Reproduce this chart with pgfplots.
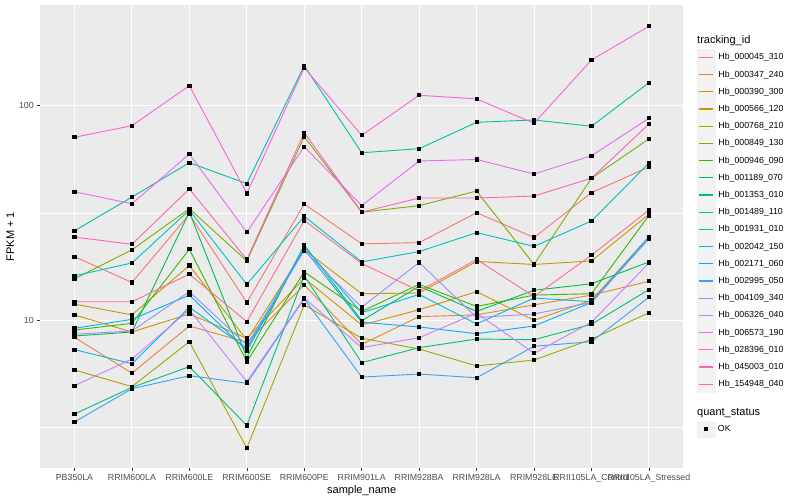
\documentclass[border=0pt]{standalone}
\usepackage{fontspec}
\setmainfont{Liberation Sans}
\usepackage{pgfplots}
\usepackage{pgfplotstable}
\pgfplotsset{compat=1.18}
\definecolor{c1}{HTML}{F8766D}
\definecolor{c2}{HTML}{EA8331}
\definecolor{c3}{HTML}{D89000}
\definecolor{c4}{HTML}{C09B00}
\definecolor{c5}{HTML}{A3A500}
\definecolor{c6}{HTML}{7CAE00}
\definecolor{c7}{HTML}{39B600}
\definecolor{c8}{HTML}{00BB4E}
\definecolor{c9}{HTML}{00BF7D}
\definecolor{c10}{HTML}{00C1A3}
\definecolor{c11}{HTML}{00BFC4}
\definecolor{c12}{HTML}{00BAE0}
\definecolor{c13}{HTML}{00B0F6}
\definecolor{c14}{HTML}{35A2FF}
\definecolor{c15}{HTML}{9590FF}
\definecolor{c16}{HTML}{C77CFF}
\definecolor{c17}{HTML}{E76BF3}
\definecolor{c18}{HTML}{FA62DB}
\definecolor{c19}{HTML}{FF62BC}
\definecolor{c20}{HTML}{FF6C90}
\definecolor{panelbg}{HTML}{EBEBEB}
\definecolor{keybg}{HTML}{F2F2F2}
\definecolor{ticklab}{HTML}{4D4D4D}
\definecolor{tickcol}{HTML}{333333}

\pgfplotstableread{
x s1 s2 s3 s4 s5 s6 s7 s8 s9 s10 s11 s12 s13 s14 s15 s16 s17 s18 s19 s20
0 19.8 8.33 10.6 11.9 5.87 15.6 9.01 8.45 3.66 26.1 16.1 7.30 9.18 3.36 8.61 4.96 39.7 71.2 24.4 12.2
1 15.0 5.67 8.82 10.6 4.91 21.3 9.68 8.82 4.87 37.5 18.5 6.28 10.1 4.80 8.92 6.60 34.9 80.6 22.6 12.2
2 31.2 9.41 10.7 18.0 7.95 33.1 21.4 31.9 6.08 54.2 32.6 11.5 13.1 5.52 13.6 11.2 59.5 123.8 40.9 16.4
3 12.1 7.90 8.25 8.09 2.54 18.9 6.42 6.70 3.24 43.3 14.7 7.41 7.22 5.09 7.67 5.18 25.7 39.0 19.2 9.85
4 34.8 14.6 15.7 21.3 11.8 71.6 16.8 22.4 16.1 153.4 30.5 22.0 21.5 12.6 21.1 12.7 64.4 150.1 74.8 29.2
5 22.7 7.73 9.51 13.3 8.25 31.9 11.0 9.96 6.35 60.3 18.7 10.85 9.79 5.44 11.5 7.46 34.2 72.7 31.9 18.4
6 23.0 10.4 11.2 13.4 7.35 34.2 14.7 14.4 7.46 63.0 20.9 13.2 9.31 5.62 18.6 8.30 55.2 111.7 37.1 13.7
7 31.7 10.6 13.6 18.8 6.13 40.0 11.6 11.0 8.18 83.6 25.6 9.61 8.66 5.40 10.3 10.8 56.1 107.4 37.1 19.2
8 24.3 11.8 10.0 18.2 6.53 18.2 13.1 13.8 8.12 85.7 22.1 12.7 9.41 7.57 10.7 7.02 48.0 82.7 37.9 12.9
9 39.3 13.1 12.4 18.9 8.16 45.9 13.3 14.8 9.58 80.1 29.0 12.2 12.1 7.95 12.1 9.79 58.4 163.1 45.9 20.1
10 51.8 15.2 24.5 31.2 10.85 69.9 30.8 18.7 13.9 127.8 54.0 24.5 24.0 12.8 24.0 18.5 87.3 234.1 82.1 32.6
}\data

\begin{document}
\begin{tikzpicture}
\useasboundingbox (-40pt,-31.7pt) rectangle (760pt,468.3pt);
\begin{axis}[
  scale only axis, width=643.4pt, height=463.3pt,
  at={(0pt,0pt)}, anchor=south west,
  clip mode=individual,
  xmin=-0.6, xmax=10.6,
  ymode=log, ymin=2.045, ymax=294.1,
  axis background/.style={fill=panelbg},
  axis line style={draw=none},
  xtick={0,...,10},
  xticklabels={PB350LA,RRIM600LA,RRIM600LE,RRIM600SE,RRIM600PE,RRIM901LA,RRIM928BA,RRIM928LA,RRIM928LE,RRII105LA\_Control,RRII105LA\_Stressed},
  ytick={10,100}, yticklabels={10,100},
  minor ytick={3.1623,31.623},
  xmajorgrids, ymajorgrids, yminorgrids,
  major grid style={white, line width=1.07pt},
  minor grid style={white, line width=0.53pt},
  tick align=outside, tick pos=left,
  major tick length=2.75pt, minor tick length=0pt,
  tick style={tickcol, line width=0.53pt},
  ticklabel style={font=\fontsize{8.8}{10}\selectfont, text=ticklab},
  /pgf/number format/assume math mode=true,
  xlabel={sample\_name}, ylabel={FPKM + 1},
  label style={font=\fontsize{11}{13}\selectfont},
  xlabel style={yshift=4pt},
  ylabel style={yshift=-2pt},
  legend style={at={(1.02114,0.90578)}, anchor=north west, draw=none, fill=none,
    inner sep=0pt, row sep=0pt, column sep=3pt,
    nodes={inner sep=0pt, font=\fontsize{8.8}{10}\selectfont}, cells={anchor=west}},
  legend image code/.code={\fill[keybg] (0pt,-8.15pt) rectangle (17.3pt,8.15pt); \draw[#1, line width=1.1pt] (1.73pt,0pt) -- (15.57pt,0pt);},
  every axis plot/.append style={line width=0.9pt},
]
\addplot[color=c1, mark=none] table[x=x,y=s1]{\data}; \addlegendentry{Hb\_000045\_310}
\addplot[color=c2, mark=none] table[x=x,y=s2]{\data}; \addlegendentry{Hb\_000347\_240}
\addplot[color=c3, mark=none] table[x=x,y=s3]{\data}; \addlegendentry{Hb\_000390\_300}
\addplot[color=c4, mark=none] table[x=x,y=s4]{\data}; \addlegendentry{Hb\_000566\_120}
\addplot[color=c5, mark=none] table[x=x,y=s5]{\data}; \addlegendentry{Hb\_000768\_210}
\addplot[color=c6, mark=none] table[x=x,y=s6]{\data}; \addlegendentry{Hb\_000849\_130}
\addplot[color=c7, mark=none] table[x=x,y=s7]{\data}; \addlegendentry{Hb\_000946\_090}
\addplot[color=c8, mark=none] table[x=x,y=s8]{\data}; \addlegendentry{Hb\_001189\_070}
\addplot[color=c9, mark=none] table[x=x,y=s9]{\data}; \addlegendentry{Hb\_001353\_010}
\addplot[color=c10, mark=none] table[x=x,y=s10]{\data}; \addlegendentry{Hb\_001489\_110}
\addplot[color=c11, mark=none] table[x=x,y=s11]{\data}; \addlegendentry{Hb\_001931\_010}
\addplot[color=c12, mark=none] table[x=x,y=s12]{\data}; \addlegendentry{Hb\_002042\_150}
\addplot[color=c13, mark=none] table[x=x,y=s13]{\data}; \addlegendentry{Hb\_002171\_060}
\addplot[color=c14, mark=none] table[x=x,y=s14]{\data}; \addlegendentry{Hb\_002995\_050}
\addplot[color=c15, mark=none] table[x=x,y=s15]{\data}; \addlegendentry{Hb\_004109\_340}
\addplot[color=c16, mark=none] table[x=x,y=s16]{\data}; \addlegendentry{Hb\_006326\_040}
\addplot[color=c17, mark=none] table[x=x,y=s17]{\data}; \addlegendentry{Hb\_006573\_190}
\addplot[color=c18, mark=none] table[x=x,y=s18]{\data}; \addlegendentry{Hb\_028396\_010}
\addplot[color=c19, mark=none] table[x=x,y=s19]{\data}; \addlegendentry{Hb\_045003\_010}
\addplot[color=c20, mark=none] table[x=x,y=s20]{\data}; \addlegendentry{Hb\_154948\_040}
\pgfplotsinvokeforeach{1,...,20}{
  \addplot[only marks, mark=square*, mark size=1.6pt, black, forget plot] table[x=x,y=s#1]{\data};
}
\node[anchor=west, inner sep=0pt, font=\fontsize{11}{13}\selectfont] at (rel axis cs:1.02114,0.92294) {tracking\_id};
\node[anchor=west, inner sep=0pt, font=\fontsize{11}{13}\selectfont] at (rel axis cs:1.02114,0.12001) {quant\_status};
\end{axis}
\begin{axis}[
  scale only axis, width=643.4pt, height=463.3pt,
  at={(0pt,0pt)}, anchor=south west,
  hide axis, xmin=0, xmax=1, ymin=0, ymax=1,
  legend style={at={(1.02114,0.10350)}, anchor=north west, draw=none, fill=none,
    inner sep=0pt, row sep=0pt, column sep=3pt,
    nodes={inner sep=0pt, font=\fontsize{8.8}{10}\selectfont}, cells={anchor=west}},
  legend image code/.code={\fill[keybg] (0pt,-8.15pt) rectangle (17.3pt,8.15pt); \draw[mark repeat=2,mark phase=2,#1] plot coordinates {(0pt,0pt) (8.65pt,0pt) (17.3pt,0pt)};},
]
\addlegendimage{only marks, mark=square*, mark size=1.6pt, black}
\addlegendentry{OK}
\end{axis}
\end{tikzpicture}
\end{document}
